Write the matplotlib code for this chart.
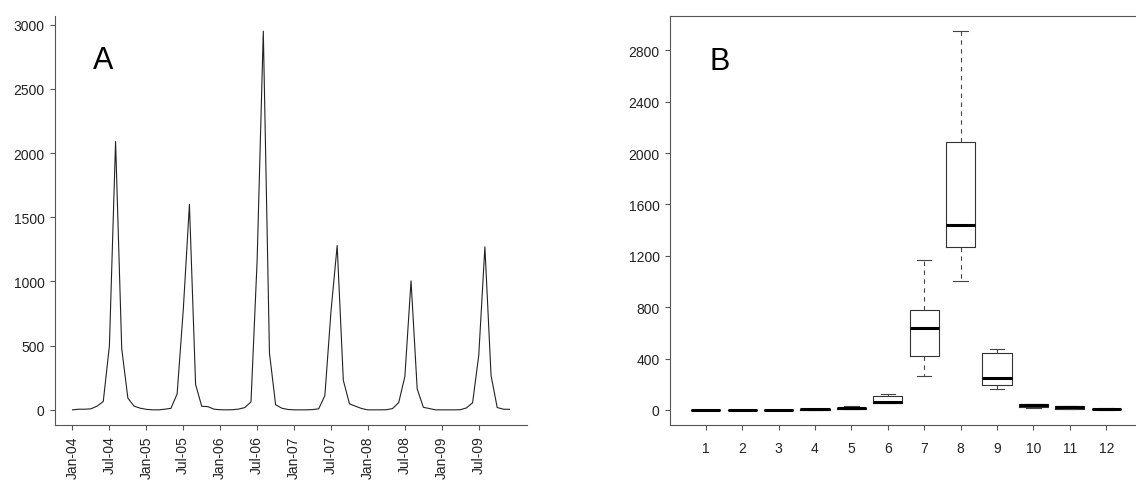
import math
import numpy as np
import matplotlib.pyplot as plt

plt.rcParams['font.family'] = ['Liberation Sans', 'DejaVu Sans']

# monthly counts, Jan..Dec
cases_2004 = [0, 5, 5, 8, 29, 65, 500, 2090, 477, 91, 29, 13]
cases_2005 = [4, 0, 0, 5, 12, 124, 780, 1600, 197, 28, 25, 5]
cases_2006 = [1, 0, 1, 6, 18, 62, 1167, 2950, 443, 40, 13, 3]
cases_2007 = [0, 0, 0, 2, 8, 111, 770, 1280, 230, 47, 28, 10]
cases_2008 = [0, 0, 0, 1, 10, 57, 260, 1005, 163, 20, 10, 0]
cases_2009 = [0, 0, 0, 1, 15, 55, 423, 1270, 268, 18, 5, 4]

years = ['04', '05', '06', '07', '08', '09']
month_labels = [str(m) for m in range(1, 13)]


def fivenum(v):
    # Tukey hinges, as R's boxplot uses them
    s = sorted(v)
    n = len(s)
    n4 = math.floor((n + 3) / 2) / 2
    d = [1, n4, (n + 1) / 2, n + 1 - n4, n]
    return [0.5 * (s[math.floor(x - 1)] + s[math.ceil(x - 1)]) for x in d]


def box_stats(v):
    v = np.asarray(v, float)
    _, q1, med, q3, _ = fivenum(v)
    iqr = q3 - q1
    lo = v[v >= q1 - 1.5 * iqr].min()
    hi = v[v <= q3 + 1.5 * iqr].max()
    return dict(med=med, q1=q1, q3=q3, whislo=lo, whishi=hi, fliers=[])


by_year = np.array([cases_2004, cases_2005, cases_2006,
                    cases_2007, cases_2008, cases_2009])
series = by_year.ravel()

fig = plt.figure(figsize=(11.36, 4.81), dpi=100)
W, H = 1136, 481

ymax = series.max()
ylim = (-0.04 * ymax, 1.04 * ymax)
spine_col = '#555555'

# panel A: time series
axA = fig.add_axes([55 / W, 55 / H, 472 / W, 409 / H])
x = np.arange(len(series))
axA.plot(x, series, color='#222222', lw=0.8)
axA.set_xlim(-0.04 * x[-1], 1.04 * x[-1])
axA.set_ylim(*ylim)
tick_pos = np.arange(0, len(series), 6)
tick_lab = [f'{"Jan" if i % 12 == 0 else "Jul"}-{years[i // 12]}' for i in tick_pos]
axA.set_xticks(tick_pos)
axA.set_xticklabels(tick_lab, rotation=90)
axA.set_yticks(np.arange(0, 3001, 500))
for side in ['top', 'right']:
    axA.spines[side].set_visible(False)
for side in ['left', 'bottom']:
    axA.spines[side].set_color(spine_col)
axA.tick_params(axis='both', length=3.5, color=spine_col, labelsize=10, colors='#222222')
axA.tick_params(axis='y', pad=4)
axA.tick_params(axis='x', pad=4)
fig.text(93 / W, 1 - 69 / H, 'A', fontsize=22, va='baseline')

# panel B: boxplot by month
axB = fig.add_axes([670 / W, 55 / H, 472 / W, 409 / H])
stats = [box_stats(by_year[:, m]) for m in range(12)]
edge = '#333333'
axB.bxp(stats, positions=range(1, 13), widths=0.8, showfliers=False,
        boxprops=dict(color=edge, lw=0.8),
        medianprops=dict(color='black', lw=2.2),
        whiskerprops=dict(color='#444444', lw=0.8, linestyle=(0, (4, 4))),
        capprops=dict(color='#444444', lw=0.8))
axB.set_xlim(0.5 - 0.48, 12.5 + 0.48)
axB.set_ylim(*ylim)
axB.set_xticks(range(1, 13))
axB.set_xticklabels(month_labels)
axB.set_yticks(np.arange(0, 2801, 400))
for side in axB.spines:
    axB.spines[side].set_color(spine_col)
axB.tick_params(axis='both', length=3.5, color=spine_col, labelsize=10, colors='#222222')
axB.tick_params(axis='y', pad=4)
axB.tick_params(axis='x', pad=8)
fig.text(709 / W, 1 - 70 / H, 'B', fontsize=22, va='baseline')

fig.savefig('out.png', dpi=100)
